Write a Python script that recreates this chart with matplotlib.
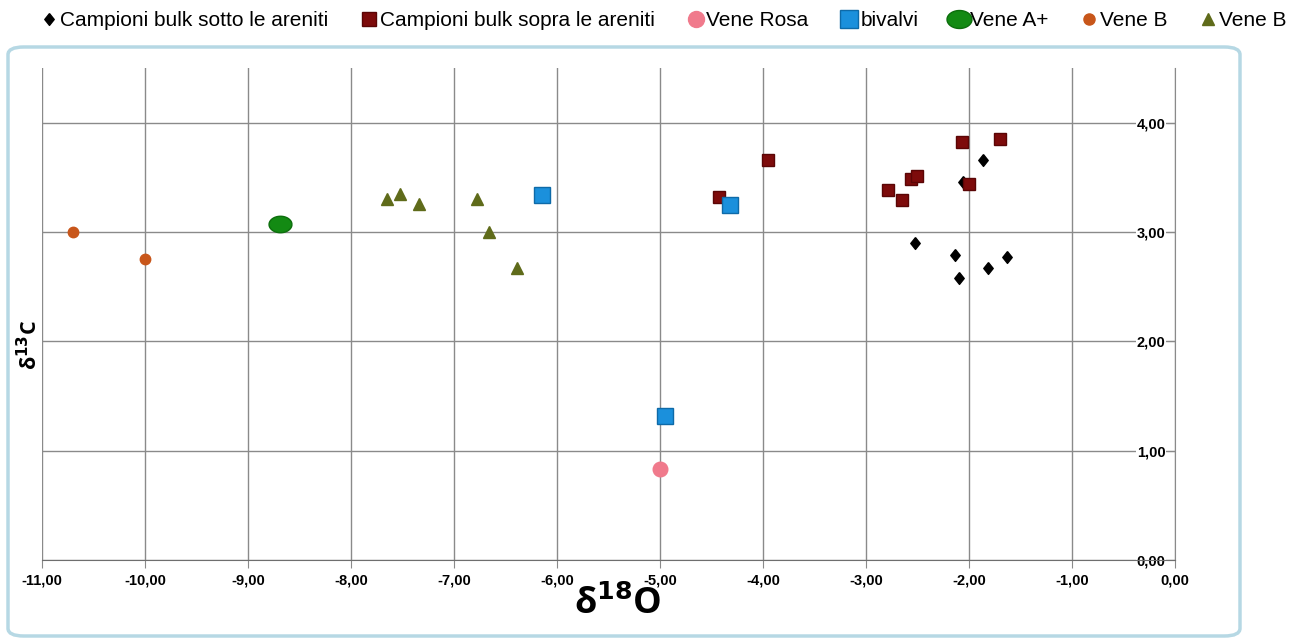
import matplotlib
matplotlib.use("Agg")
import numpy as np
import matplotlib.pyplot as plt
from matplotlib.patches import FancyBboxPatch
from matplotlib.ticker import FuncFormatter, MultipleLocator

# series: (d18O, d13C)
sotto_x = [-1.86, -2.06, -2.52, -2.14, -2.10, -1.82, -1.63]
sotto_y = [3.66, 3.46, 2.90, 2.79, 2.58, 2.67, 2.77]

sopra_x = [-3.95, -4.43, -2.79, -2.65, -2.56, -2.50, -2.07, -2.00, -1.70]
sopra_y = [3.66, 3.32, 3.38, 3.29, 3.48, 3.51, 3.82, 3.44, 3.85]

rosa_x = [-5.00]
rosa_y = [0.83]

bivalvi_x = [-6.15, -4.32, -4.95]
bivalvi_y = [3.34, 3.25, 1.32]

aplus_x = [-8.69]
aplus_y = [3.07]

veneb1_x = [-10.70, -10.00]
veneb1_y = [3.00, 2.75]

veneb2_x = [-7.65, -7.52, -7.34, -6.78, -6.66, -6.39]
veneb2_y = [3.30, 3.35, 3.26, 3.30, 3.00, 2.67]

plt.rcParams['font.family'] = ['Liberation Sans', 'DejaVu Sans']

# marker shapes: slightly narrow diamond, flattened ellipse
diamond = [(0, 1), (0.8, 0), (0, -1), (-0.8, 0), (0, 1)]
t = np.linspace(0, 2 * np.pi, 40)
ellipse = np.column_stack([np.cos(t), 0.72 * np.sin(t)])

fig = plt.figure(figsize=(13.08, 6.41), dpi=100)
ax = fig.add_axes([0.0321, 0.1264, 0.8662, 0.7676])

h1, = ax.plot(sotto_x, sotto_y, marker=diamond, ms=8.5, color='black',
              ls='none', label='Campioni bulk sotto le areniti')
h2, = ax.plot(sopra_x, sopra_y, 's', ms=8.5, color='#7d0b0b', mec='#5a0505',
              ls='none', label='Campioni bulk sopra le areniti')
h3, = ax.plot(rosa_x, rosa_y, 'o', ms=10.5, color='#f07a8c', mec='#f07a8c',
              ls='none', label='Vene Rosa')
h4, = ax.plot(bivalvi_x, bivalvi_y, 's', ms=11, color='#1b90dc', mec='#0e6aa8',
              ls='none', label='bivalvi')
h5, = ax.plot(aplus_x, aplus_y, marker=ellipse, ms=16.5, color='#138a13',
              mec='#0c6e0c', ls='none', label='Vene A+')
h6, = ax.plot(veneb1_x, veneb1_y, 'o', ms=7.5, color='#c8561a', ls='none',
              label='Vene B')
h7, = ax.plot(veneb2_x, veneb2_y, '^', ms=8.5, color='#5f6b1a', ls='none',
              label='Vene B')

ax.set_xlim(-11, 0)
ax.set_ylim(0, 4.5)
ax.xaxis.set_major_locator(MultipleLocator(1))
ax.set_yticks([0, 1, 2, 3, 4])
fmt = FuncFormatter(lambda v, p: f"{v:.2f}".replace('.', ','))
ax.xaxis.set_major_formatter(fmt)
ax.yaxis.set_major_formatter(fmt)

ax.grid(True, color='#8a8a8a', lw=1)
ax.set_axisbelow(True)
ax.spines['left'].set_position(('data', 0))
ax.spines['left'].set_color('#8a8a8a')
ax.spines['bottom'].set_color('#6e6e6e')
ax.spines['right'].set_visible(False)
ax.spines['top'].set_visible(False)
ax.tick_params(axis='both', colors='#8a8a8a', labelcolor='black',
               labelsize=10.5, length=6)
ax.tick_params(axis='y', pad=1)
for lab in ax.get_xticklabels() + ax.get_yticklabels():
    lab.set_fontweight('bold')
for lab in ax.get_yticklabels():
    lab.set_bbox(dict(facecolor='white', edgecolor='none', pad=0.5))

fig.text(618 / 1308, 1 - 605 / 641, r'δ$^{\mathbf{18}}$O', fontsize=26,
         fontweight='bold', family='Open Sans', ha='center', va='center')
fig.text(30 / 1308, 1 - 345 / 641, r'δ$^{\mathbf{13}}$C', fontsize=15.5,
         fontweight='bold', family='Open Sans', rotation=90,
         ha='center', va='center')

leg = fig.legend(handles=[h1, h2, h3, h4, h5, h6, h7], loc='upper left',
                 bbox_to_anchor=(0.0164, 1.012), ncol=7, frameon=False,
                 fontsize=15, handletextpad=0.1, columnspacing=1.53,
                 handlelength=0.85)
# legend keys are drawn a bit larger than the plotted points
for lh, ms in zip(leg.legend_handles, [8.5, 9.5, 11.5, 13, 18, 8, 8.5]):
    lh.set_markersize(ms)

# outer rounded chart frame
frame = FancyBboxPatch((8 / 1308, 5 / 641), 1232 / 1308, 589 / 641,
                       boxstyle='round,pad=0,rounding_size=0.012',
                       transform=fig.transFigure, fill=False,
                       edgecolor='#b6d8e4', lw=2.5)
fig.patches.append(frame)

fig.savefig('out.png', dpi=100)
